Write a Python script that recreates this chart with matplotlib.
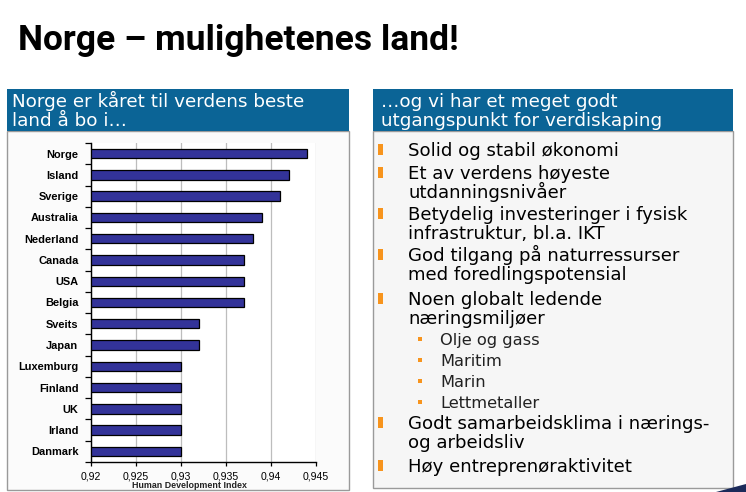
import matplotlib
matplotlib.use("Agg")
import matplotlib.pyplot as plt
from matplotlib.patches import Rectangle, Polygon

W, H = 746, 492
fig = plt.figure(figsize=(W / 100, H / 100), dpi=100)
fig.patch.set_facecolor("white")

# ---------------- data ----------------
countries = ["Norge", "Island", "Sverige", "Australia", "Nederland", "Canada", "USA",
             "Belgia", "Sveits", "Japan", "Luxemburg", "Finland", "UK", "Irland", "Danmark"]
hdi = [0.944, 0.942, 0.941, 0.939, 0.938, 0.937, 0.937, 0.937, 0.932, 0.932,
       0.930, 0.930, 0.930, 0.930, 0.930]
xticks = [0.92, 0.925, 0.93, 0.935, 0.94, 0.945]
xtick_labels = ["0,92", "0,925", "0,93", "0,935", "0,94", "0,945"]
xlabel = "Human Development Index"

title = "Norge \u2013 mulighetenes land!"
left_header = ["Norge er k\u00e5ret til verdens beste", "land \u00e5 bo i\u2026"]
right_header = ["\u2026og vi har et meget godt", "utgangspunkt for verdiskaping"]
# (text, level, baseline_px, bullet?)
bullets = [
    ("Solid og stabil \u00f8konomi", 1, 156, True),
    ("Et av verdens h\u00f8yeste", 1, 179, True),
    ("utdanningsniv\u00e5er", 1, 198, False),
    ("Betydelig investeringer i fysisk", 1, 220, True),
    ("infrastruktur, bl.a. IKT", 1, 239, False),
    ("God tilgang p\u00e5 naturressurser", 1, 261, True),
    ("med foredlingspotensial", 1, 280, False),
    ("Noen globalt ledende", 1, 305, True),
    ("n\u00e6ringsmilj\u00f8er", 1, 324, False),
    ("Olje og gass", 2, 345, True),
    ("Maritim", 2, 366, True),
    ("Marin", 2, 387, True),
    ("Lettmetaller", 2, 408, True),
    ("Godt samarbeidsklima i n\u00e6rings-", 1, 429, True),
    ("og arbeidsliv", 1, 448, False),
    ("H\u00f8y entrepren\u00f8raktivitet", 1, 472, True),
]

BLUE = "#0B6496"
ORANGE = "#F7941D"
BAR = "#333399"

def fx(x):
    return x / W

def fy(y):
    return 1 - y / H

def rect(x0, y0, x1, y1, **kw):
    fig.add_artist(Rectangle((fx(x0), fy(y1)), fx(x1) - fx(x0), fy(y0) - fy(y1),
                             transform=fig.transFigure, **kw))

# ---------------- title ----------------
fig.text(fx(18), fy(50), title, fontsize=25.5, fontweight="bold", family="Roboto",
         va="baseline", ha="left", color="black")

# ---------------- panels ----------------
rect(7, 131, 349, 490, facecolor="#FBFBFB", edgecolor="#9A9A9A", lw=1.0, zorder=0)
rect(373, 131, 733, 488, facecolor="#F6F6F6", edgecolor="#9A9A9A", lw=1.0, zorder=0)
rect(7, 89, 349, 131, facecolor=BLUE, edgecolor="none", zorder=1)
rect(373, 89, 733, 131, facecolor=BLUE, edgecolor="none", zorder=1)

for i, line in enumerate(left_header):
    fig.text(fx(12), fy(107 + 19 * i), line, fontsize=13.2, color="white",
             family="DejaVu Sans", va="baseline", ha="left")
for i, line in enumerate(right_header):
    fig.text(fx(381), fy(107 + 19 * i), line, fontsize=13.2, color="white",
             family="DejaVu Sans", va="baseline", ha="left")

# ---------------- bullets ----------------
for text, level, base, has_bullet in bullets:
    if level == 1:
        fig.text(fx(408), fy(base), text, fontsize=13.1, color="black",
                 family="DejaVu Sans", va="baseline", ha="left")
        if has_bullet:
            rect(378, base - 12, 383, base - 1, facecolor=ORANGE, edgecolor="none")
    else:
        fig.text(fx(440), fy(base), text, fontsize=11.7, color="#222222",
                 family="DejaVu Sans", va="baseline", ha="left")
        if has_bullet:
            rect(418, base - 8, 422, base - 4, facecolor=ORANGE, edgecolor="none")

# corner decoration
fig.add_artist(Polygon([(fx(716), fy(492)), (fx(746), fy(484)), (fx(746), fy(492))],
                       closed=True, transform=fig.transFigure, facecolor="#1B2A5A",
                       edgecolor="none"))

# ---------------- bar chart ----------------
ax = fig.add_axes([fx(91), fy(462), fx(316) - fx(91), fy(143) - fy(462)])
ax.set_facecolor("white")
n = len(countries)
ypos = list(range(n))
ax.barh(ypos, [v - xticks[0] for v in hdi], left=xticks[0], height=0.44,
        color=BAR, edgecolor="black", linewidth=0.9, zorder=3)
ax.set_xlim(xticks[0], xticks[-1])
ax.set_ylim(n - 0.5, -0.5)
ax.set_xticks(xticks)
ax.set_xticklabels(xtick_labels, fontsize=7.6, family="Liberation Sans")
ax.set_yticks([i - 0.5 for i in range(n + 1)])
ax.set_yticklabels([])
ax.set_yticks(ypos, minor=True)
ax.set_yticklabels(countries, minor=True, fontsize=7.9, fontweight="bold",
                   family="Liberation Sans")
ax.tick_params(axis="y", which="major", length=4, width=0.9, direction="out", color="black")
ax.tick_params(axis="y", which="minor", length=0, pad=9)
ax.tick_params(axis="x", which="major", length=3, width=0.9, direction="out", pad=4)
ax.grid(axis="x", color="#BDBDBD", lw=0.9, zorder=0)
for s in ["top", "right"]:
    ax.spines[s].set_visible(False)
for s in ["left", "bottom"]:
    ax.spines[s].set_linewidth(1.0)
    ax.spines[s].set_color("black")

fig.text(fx(189), fy(485), xlabel, fontsize=6.4, fontweight="bold",
         family="Liberation Sans", ha="center", va="center", color="#222222")

fig.savefig("out.png", dpi=100, facecolor="white")
